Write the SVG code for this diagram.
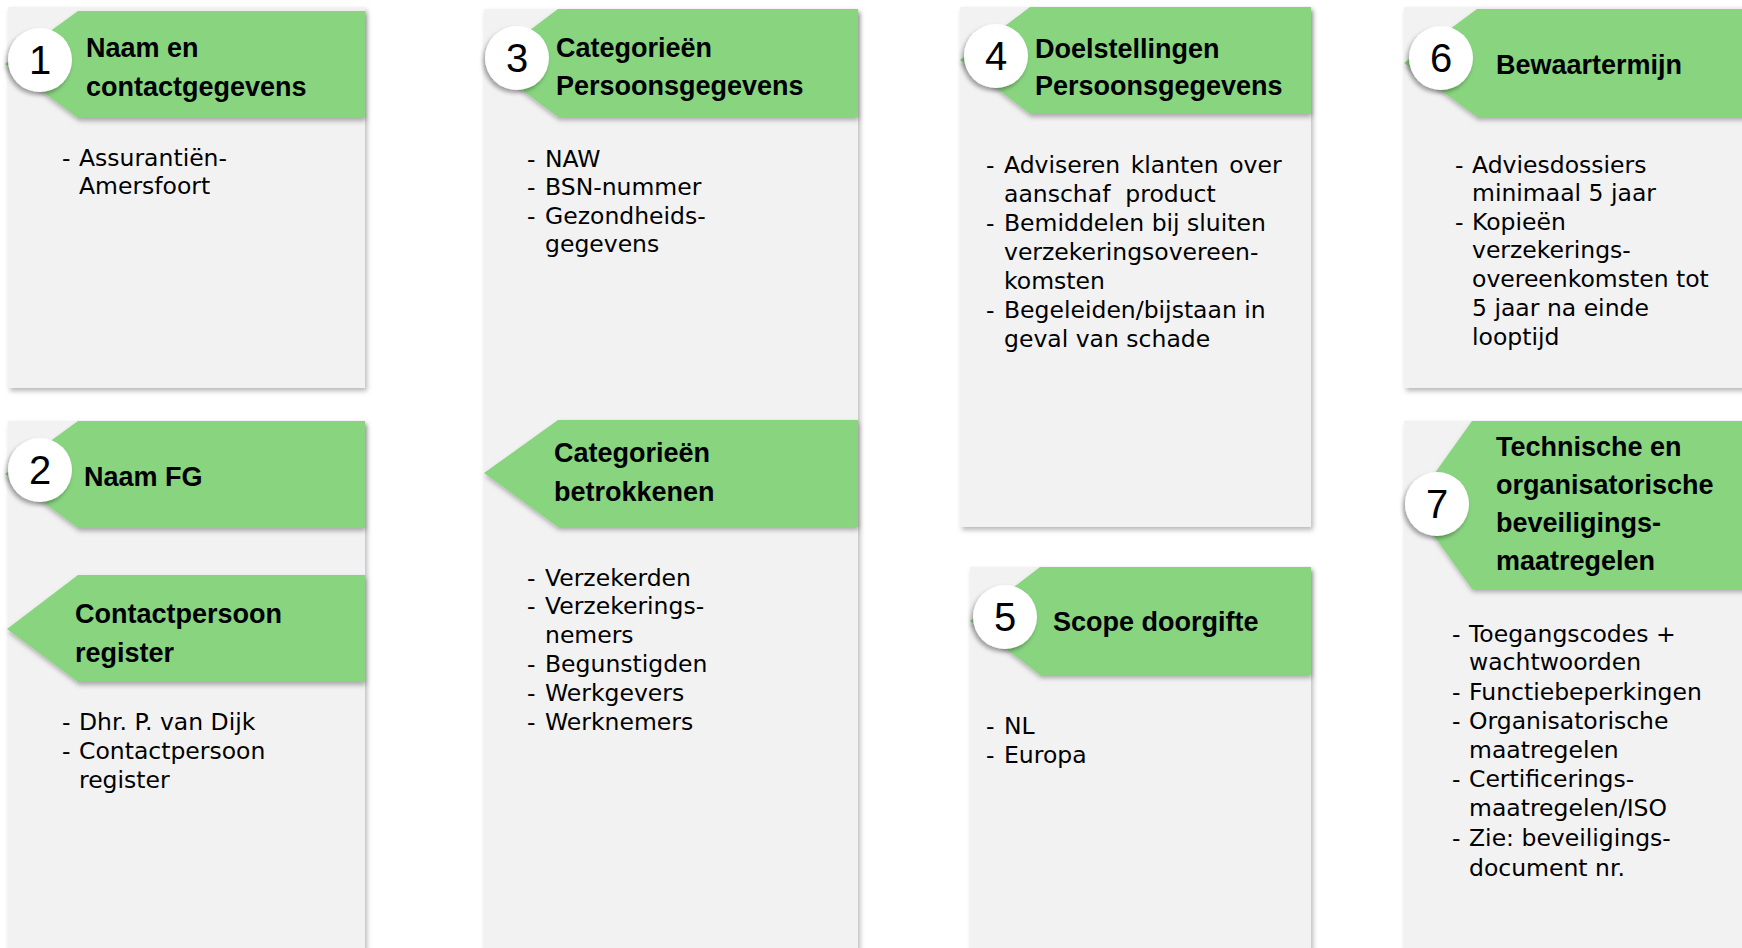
<svg xmlns="http://www.w3.org/2000/svg" width="1742" height="948" viewBox="0 0 1742 948">
<defs>
<filter id="ps" x="-5%" y="-5%" width="110%" height="110%"><feDropShadow dx="2" dy="3" stdDeviation="2.5" flood-color="#000" flood-opacity="0.28"/></filter>
<filter id="bs" x="-5%" y="-10%" width="110%" height="130%"><feDropShadow dx="1" dy="3" stdDeviation="2.5" flood-color="#000" flood-opacity="0.3"/></filter>
<filter id="cs" x="-30%" y="-30%" width="160%" height="160%"><feDropShadow dx="-2" dy="3" stdDeviation="2" flood-color="#000" flood-opacity="0.35"/></filter>
<style>
.panel{fill:#F2F2F2;filter:url(#ps)}
.banner{fill:#88D47F;filter:url(#bs)}
.badge{fill:#FFFFFF;filter:url(#cs)}
.num{font-family:"Liberation Sans",Arial,sans-serif;font-size:40px;fill:#000;text-anchor:middle}
.title{font-family:"Liberation Sans",Arial,sans-serif;font-weight:bold;font-size:27px;fill:#000}
.body{font-family:"DejaVu Sans",Verdana,sans-serif;font-size:23.5px;fill:#000}
</style>
</defs>
<rect width="1742" height="948" fill="#FFFFFF"/>
<g id="connectors"></g>

<g id="panel1">
<rect class="panel" x="8" y="7" width="357" height="381"/>
<polygon class="banner" points="78,11 365,11 365,118 78,118 5,64"/>
<circle class="badge" cx="40" cy="60" r="32"/>
<text class="num" x="40" y="74">1</text>
<text class="title"><tspan x="86" y="57">Naam en</tspan><tspan x="86" y="96">contactgegevens</tspan></text>
<text class="body"><tspan x="62" y="166">-</tspan><tspan x="79" y="166">Assurantiën-</tspan><tspan x="79" y="194">Amersfoort</tspan></text>
</g>

<g id="panel2">
<rect class="panel" x="8" y="421" width="357" height="560"/>
<polygon class="banner" points="78,421 365,421 365,528 78,528 5,474"/>
<circle class="badge" cx="40" cy="470" r="32"/>
<text class="num" x="40" y="484">2</text>
<text class="title" x="84" y="486">Naam FG</text>
<polygon class="banner" points="78,575 365,575 365,682 78,682 7,629"/>
<text class="title"><tspan x="75" y="623">Contactpersoon</tspan><tspan x="75" y="662">register</tspan></text>
<text class="body"><tspan x="62" y="730">-</tspan><tspan x="79" y="730">Dhr. P. van Dijk</tspan><tspan x="62" y="759">-</tspan><tspan x="79" y="759">Contactpersoon</tspan><tspan x="79" y="788">register</tspan></text>
</g>

<g id="panel3">
<rect class="panel" x="484" y="9" width="374" height="980"/>
<polygon class="banner" points="558,9 858,9 858,117 558,117 486,63"/>
<circle class="badge" cx="517" cy="58" r="32"/>
<text class="num" x="517" y="72">3</text>
<text class="title"><tspan x="556" y="57">Categorieën</tspan><tspan x="556" y="95">Persoonsgegevens</tspan></text>
<text class="body"><tspan x="527" y="167">-</tspan><tspan x="545" y="167">NAW</tspan><tspan x="527" y="195">-</tspan><tspan x="545" y="195">BSN-nummer</tspan><tspan x="527" y="224">-</tspan><tspan x="545" y="224">Gezondheids-</tspan><tspan x="545" y="252">gegevens</tspan></text>
<polygon class="banner" points="558,420 858,420 858,527 558,527 484,473"/>
<text class="title"><tspan x="554" y="462">Categorieën</tspan><tspan x="554" y="501">betrokkenen</tspan></text>
<text class="body"><tspan x="527" y="586">-</tspan><tspan x="545" y="586">Verzekerden</tspan><tspan x="527" y="614">-</tspan><tspan x="545" y="614">Verzekerings-</tspan><tspan x="545" y="643">nemers</tspan><tspan x="527" y="672">-</tspan><tspan x="545" y="672">Begunstigden</tspan><tspan x="527" y="701">-</tspan><tspan x="545" y="701">Werkgevers</tspan><tspan x="527" y="730">-</tspan><tspan x="545" y="730">Werknemers</tspan></text>
</g>

<g id="panel4">
<rect class="panel" x="960" y="7" width="351" height="520"/>
<polygon class="banner" points="1030,7 1311,7 1311,114 1030,114 960,60"/>
<circle class="badge" cx="996" cy="56" r="32"/>
<text class="num" x="996" y="70">4</text>
<text class="title"><tspan x="1035" y="58">Doelstellingen</tspan><tspan x="1035" y="95">Persoonsgegevens</tspan></text>
<text class="body"><tspan x="986" y="173">-</tspan><tspan x="1004" y="173" word-spacing="3">Adviseren klanten over</tspan><tspan x="1004" y="202" xml:space="preserve">aanschaf  product</tspan><tspan x="986" y="231">-</tspan><tspan x="1004" y="231">Bemiddelen bij sluiten</tspan><tspan x="1004" y="260">verzekeringsovereen-</tspan><tspan x="1004" y="289">komsten</tspan><tspan x="986" y="318">-</tspan><tspan x="1004" y="318">Begeleiden/bijstaan in</tspan><tspan x="1004" y="347">geval van schade</tspan></text>
</g>

<g id="panel5">
<rect class="panel" x="970" y="567" width="341" height="420"/>
<polygon class="banner" points="1040,567 1311,567 1311,675 1040,675 970,621"/>
<circle class="badge" cx="1005" cy="617" r="32"/>
<text class="num" x="1005" y="631">5</text>
<text class="title" x="1053" y="631">Scope doorgifte</text>
<text class="body"><tspan x="986" y="734">-</tspan><tspan x="1004" y="734">NL</tspan><tspan x="986" y="763">-</tspan><tspan x="1004" y="763">Europa</tspan></text>
</g>

<g id="panel6">
<rect class="panel" x="1404" y="7" width="360" height="381"/>
<polygon class="banner" points="1477,9 1760,9 1760,117 1477,117 1404,63"/>
<circle class="badge" cx="1441" cy="58" r="32"/>
<text class="num" x="1441" y="72">6</text>
<text class="title" x="1496" y="74">Bewaartermijn</text>
<text class="body"><tspan x="1455" y="173">-</tspan><tspan x="1472" y="173">Adviesdossiers</tspan><tspan x="1472" y="201">minimaal 5 jaar</tspan><tspan x="1455" y="230">-</tspan><tspan x="1472" y="230">Kopieën</tspan><tspan x="1472" y="258">verzekerings-</tspan><tspan x="1472" y="287">overeenkomsten tot</tspan><tspan x="1472" y="316">5 jaar na einde</tspan><tspan x="1472" y="345">looptijd</tspan></text>
</g>

<g id="panel7">
<rect class="panel" x="1404" y="421" width="360" height="570"/>
<polygon class="banner" points="1472,421 1760,421 1760,589 1472,589 1412,505"/>
<circle class="badge" cx="1437" cy="504" r="32"/>
<text class="num" x="1437" y="518">7</text>
<text class="title"><tspan x="1496" y="456">Technische en</tspan><tspan x="1496" y="494">organisatorische</tspan><tspan x="1496" y="532">beveiligings-</tspan><tspan x="1496" y="570">maatregelen</tspan></text>
<text class="body"><tspan x="1452" y="642">-</tspan><tspan x="1469" y="642">Toegangscodes +</tspan><tspan x="1469" y="670">wachtwoorden</tspan><tspan x="1452" y="700">-</tspan><tspan x="1469" y="700">Functiebeperkingen</tspan><tspan x="1452" y="729">-</tspan><tspan x="1469" y="729">Organisatorische</tspan><tspan x="1469" y="758">maatregelen</tspan><tspan x="1452" y="787">-</tspan><tspan x="1469" y="787">Certificerings-</tspan><tspan x="1469" y="816">maatregelen/ISO</tspan><tspan x="1452" y="846">-</tspan><tspan x="1469" y="846">Zie: beveiligings-</tspan><tspan x="1469" y="876">document nr.</tspan></text>
</g>
</svg>
